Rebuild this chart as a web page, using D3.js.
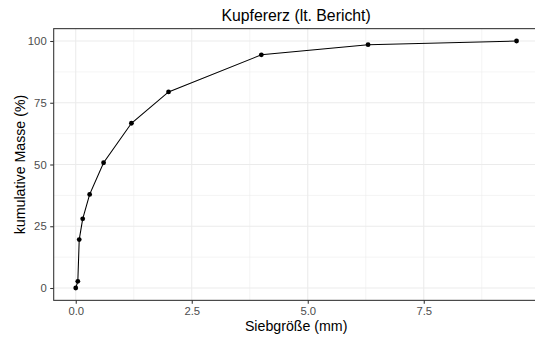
<!DOCTYPE html>
<html>
<head>
<meta charset="utf-8">
<script src="https://cdn.jsdelivr.net/npm/d3@7"></script>
<style>
  html, body { margin: 0; padding: 0; background: #fff; }
  svg { display: block; }
  text { font-family: "Liberation Sans", Arial, Helvetica, sans-serif; }
</style>
</head>
<body>
<svg id="chart" width="535" height="338"></svg>
<script>
// Cumulative passing mass per sieve size
const sieveSize = [0, 0.045, 0.075, 0.15, 0.3, 0.6, 1.2, 2.0, 4.0, 6.3, 9.5];
const cumMass   = [0, 2.7, 19.6, 28.0, 37.9, 50.7, 66.7, 79.4, 94.4, 98.5, 100];

const xTicks = [0, 2.5, 5.0, 7.5];
const xMinor = [1.25, 3.75, 6.25, 8.75];
const yTicks = [0, 25, 50, 75, 100];
const yMinor = [12.5, 37.5, 62.5, 87.5];

const titleText = "Kupfererz (lt. Bericht)";
const xLabel = "Siebgröße (mm)";
const yLabel = "kumulative Masse (%)";

const svg = d3.select("#chart");

// panel geometry
const panel = { left: 53.7, top: 28.65, right: 538.6, bottom: 300.35 };

// 5% expansion on both axes
const xMin = d3.min(sieveSize), xMax = d3.max(sieveSize);
const xPad = (xMax - xMin) * 0.05;
const x = d3.scaleLinear().domain([xMin - xPad, xMax + xPad]).range([panel.left, panel.right]);
const yPad = (100 - 0) * 0.05;
const y = d3.scaleLinear().domain([0 - yPad, 100 + yPad]).range([panel.bottom, panel.top]);

const g = svg.append("g");

// clip for panel contents
svg.append("clipPath").attr("id", "panelClip")
  .append("rect")
  .attr("x", panel.left).attr("y", panel.top)
  .attr("width", panel.right - panel.left).attr("height", panel.bottom - panel.top);

const grid = g.append("g").attr("clip-path", "url(#panelClip)");

// minor grid
grid.selectAll(".vminor").data(xMinor).join("line")
  .attr("x1", d => x(d)).attr("x2", d => x(d))
  .attr("y1", panel.top).attr("y2", panel.bottom)
  .attr("stroke", "#EBEBEB").attr("stroke-width", 0.55);
grid.selectAll(".hminor").data(yMinor).join("line")
  .attr("y1", d => y(d)).attr("y2", d => y(d))
  .attr("x1", panel.left).attr("x2", panel.right)
  .attr("stroke", "#EBEBEB").attr("stroke-width", 0.55);

// major grid
grid.selectAll(".vmajor").data(xTicks).join("line")
  .attr("x1", d => x(d)).attr("x2", d => x(d))
  .attr("y1", panel.top).attr("y2", panel.bottom)
  .attr("stroke", "#EBEBEB").attr("stroke-width", 1.07);
grid.selectAll(".hmajor").data(yTicks).join("line")
  .attr("y1", d => y(d)).attr("y2", d => y(d))
  .attr("x1", panel.left).attr("x2", panel.right)
  .attr("stroke", "#EBEBEB").attr("stroke-width", 1.07);

// data line and points
const pts = sieveSize.map((s, i) => ({ s, m: cumMass[i] }));
const line = d3.line().x(d => x(d.s)).y(d => y(d.m));
grid.append("path").datum(pts)
  .attr("d", line).attr("fill", "none")
  .attr("stroke", "#000").attr("stroke-width", 1.07);
grid.selectAll(".pt").data(pts).join("circle")
  .attr("cx", d => x(d.s)).attr("cy", d => y(d.m))
  .attr("r", 2.4).attr("fill", "#000");

// panel border
g.append("rect")
  .attr("x", panel.left).attr("y", panel.top)
  .attr("width", panel.right - panel.left).attr("height", panel.bottom - panel.top)
  .attr("fill", "none").attr("stroke", "#333333").attr("stroke-width", 1.07);

// axes
const xAxis = d3.axisBottom(x).tickValues(xTicks).tickFormat(d3.format(".1f"))
  .tickSizeInner(3.5).tickSizeOuter(0).tickPadding(3);
const yAxis = d3.axisLeft(y).tickValues(yTicks).tickFormat(d3.format("d"))
  .tickSizeInner(3.5).tickSizeOuter(0).tickPadding(3.5);

const gx = g.append("g").attr("transform", `translate(0,${panel.bottom})`).call(xAxis);
const gy = g.append("g").attr("transform", `translate(${panel.left},0)`).call(yAxis);
[gx, gy].forEach(ax => {
  ax.select(".domain").remove();
  ax.selectAll(".tick line").attr("stroke", "#333333").attr("stroke-width", 1.07);
  ax.selectAll(".tick text").attr("fill", "#4D4D4D")
    .style("font-size", "11.3px")
    .style("font-family", "'Liberation Sans', Arial, sans-serif");
});

// titles
const cx = (panel.left + panel.right) / 2;
const cy = (panel.top + panel.bottom) / 2;
svg.append("text").attr("x", cx).attr("y", 20.5)
  .attr("text-anchor", "middle").attr("fill", "#000")
  .style("font-size", "15.8px").text(titleText);
svg.append("text").attr("x", cx).attr("y", 330.5)
  .attr("text-anchor", "middle").attr("fill", "#000")
  .style("font-size", "14.2px").text(xLabel);
svg.append("text")
  .attr("transform", `translate(24.5,${cy}) rotate(-90)`)
  .attr("text-anchor", "middle").attr("fill", "#000")
  .style("font-size", "14.2px").text(yLabel);
</script>
</body>
</html>
